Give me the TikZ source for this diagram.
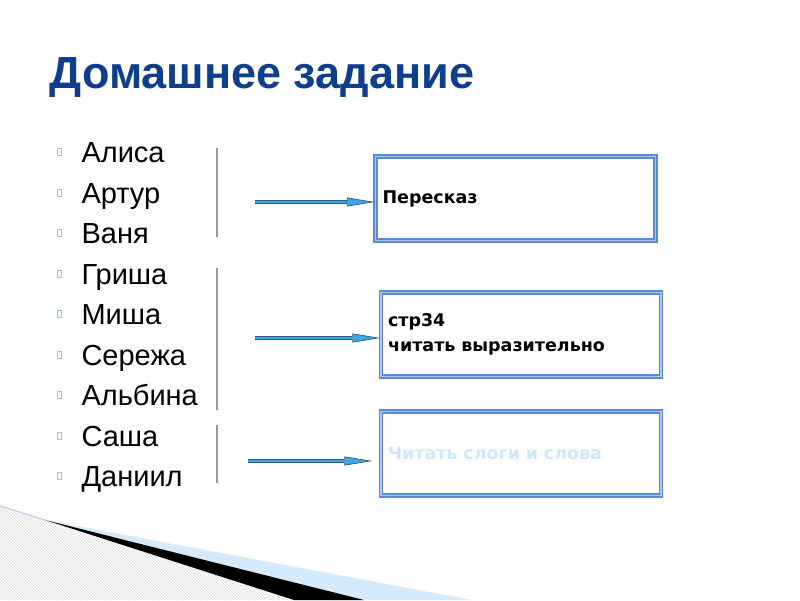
\documentclass[tikz,border=0pt]{standalone}
\usepackage{fontspec}
\setmainfont{Liberation Sans}
\newfontfamily\taskfont{DejaVu Sans}
\usetikzlibrary{arrows.meta,patterns}
\definecolor{titleblue}{HTML}{0F3F8C}
\definecolor{boxblue}{HTML}{5A8AD4}
\definecolor{boxlight}{HTML}{A9C6EE}
\definecolor{arrfill}{HTML}{3DA5E0}
\definecolor{arredge}{HTML}{2F5F86}
\definecolor{paleblue}{HTML}{CDE8FA}
\definecolor{swoosh}{HTML}{D5EAFB}
\tikzset{
  pupil/.style  = {anchor=base west, font=\fontsize{29}{30}\selectfont},
  bullet/.style = {draw=arrfill!60, line width=0.7pt},
  sep/.style    = {draw=gray!80, line width=1.2pt},
  task/.style   = {draw=boxblue, line width=1.5pt, double=boxlight, double distance=1.4pt,
                   minimum width=280pt, minimum height=84pt, text width=266pt, align=left,
                   font=\taskfont\bfseries\fontsize{17.5}{25}\selectfont},
  arr/.style    = {-{Triangle[length=28pt,width=9pt,fill=arrfill]}, draw=arredge,
                   double=arrfill, double distance=2.8pt, line width=0.7pt},
}
\begin{document}
\begin{tikzpicture}[x=1pt,y=-1pt]
  \useasboundingbox (0,0) rectangle (800,600);
  % swoosh in the lower left corner
  \fill[swoosh] (40,519) -- (472,600) -- (330,600) -- cycle;
  \fill[pattern=north west lines, pattern color=gray!30] (0,506) -- (294,600) -- (0,600) -- cycle;
  \fill[black] (45,520) -- (364,600) -- (294,600) -- cycle;
  \draw[swoosh!80!blue, line width=0.8pt] (0,506) -- (45,520);
  % title
  \node[anchor=base west, font=\bfseries\fontsize{45}{48}\selectfont, text=titleblue]
    (title) at (46,88) {Домашнее задание};
  % names
  \foreach \who [count=\i] in {Алиса,Артур,Ваня,Гриша,Миша,Сережа,Альбина,Саша,Даниил}{
    \node[pupil] (n\i) at (78,{162.5+40.5*(\i-1)}) {\who};
    \draw[bullet] (57,{148.5+40.5*(\i-1)}) rectangle (61,{155.5+40.5*(\i-1)});
  }
  % separators
  \draw[sep] (217,148) -- (217,237);
  \draw[sep] (217,268) -- (217,410);
  \draw[sep] (217,425) -- (217,483);
  % tasks
  \node[task, inner xsep=2pt] (t1) at (515.5,198.5) {Пересказ};
  \node[task, inner xsep=7pt] (t2) at (521,334.5) {стр34\\читать выразительно};
  \node[task, inner xsep=7pt, text=paleblue] (t3) at (521,453.5) {Читать слоги и слова};
  \coordinate (s1) at (255,202);
  \coordinate (s2) at (255,338);
  \coordinate (s3) at (248,461);
  \draw[arr] (s1) -- (t1.west |- s1);
  \draw[arr] (s2) -- (t2.west |- s2);
  \draw[arr] (s3) -- ([xshift=-8pt]t3.west |- s3);
\end{tikzpicture}
\end{document}
